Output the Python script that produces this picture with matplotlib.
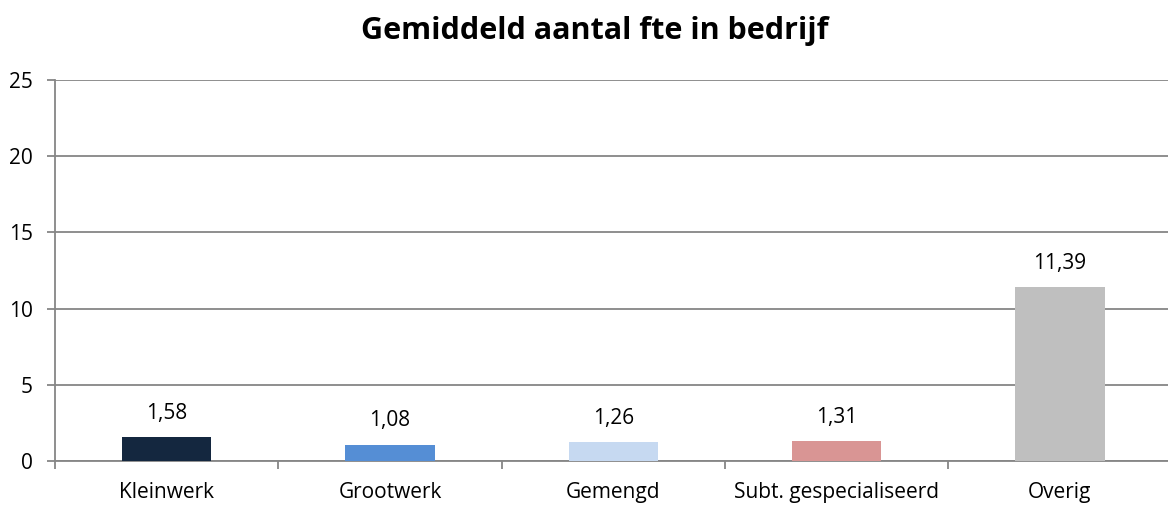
import numpy as np
import matplotlib
matplotlib.use("Agg")
import matplotlib.pyplot as plt

categories = ["Kleinwerk", "Grootwerk", "Gemengd", "Subt. gespecialiseerd", "Overig"]
values = [1.58, 1.08, 1.26, 1.31, 11.39]
colors = ["#14273F", "#558ED5", "#C6D9F1", "#D99594", "#BFBFBF"]
yticks = [0, 5, 10, 15, 20, 25]

plt.rcParams['font.family'] = ['Open Sans', 'DejaVu Sans']

fig = plt.figure(figsize=(11.68, 5.07), dpi=100)
# plot area runs a little past the right edge, as in the original
ax = fig.add_axes([55/1168, 46/507, 1116.5/1168, 381/507])

x = np.arange(len(categories))
ax.bar(x, values, width=0.40, color=colors, zorder=3)

for xi, v in zip(x, values):
    ax.annotate(f"{v:.2f}".replace(".", ","), (xi, v), xytext=(0, 17),
                textcoords='offset points', ha='center', va='center',
                fontsize=15, color='black')

ax.set_xlim(-0.5, len(categories) - 0.5)
ax.set_ylim(0, 25)
ax.set_yticks(yticks)
ax.set_yticklabels([str(t) for t in yticks], fontsize=15)
ax.yaxis.grid(True, color='#868686', linewidth=1.3, zorder=0)

# category labels without ticks, ticks at category boundaries
ax.set_xticks(x)
ax.set_xticklabels(categories, fontsize=15)
ax.tick_params(axis='x', length=0, pad=15)
ax.set_xticks(np.arange(-0.5, len(categories) + 0.5, 1), minor=True)
ax.tick_params(axis='x', which='minor', length=6, color='#868686', width=1.3)
ax.tick_params(axis='y', length=6, color='#868686', width=1.3, pad=10)

for s in ['top', 'right']:
    ax.spines[s].set_visible(False)
for s in ['left', 'bottom']:
    ax.spines[s].set_color('#868686')
    ax.spines[s].set_linewidth(1.3)

fig.text(595/1168, 1 - 31/507, "Gemiddeld aantal fte in bedrijf", ha='center', va='center',
         fontsize=22, fontweight='bold')

fig.savefig("out.png", dpi=100)
